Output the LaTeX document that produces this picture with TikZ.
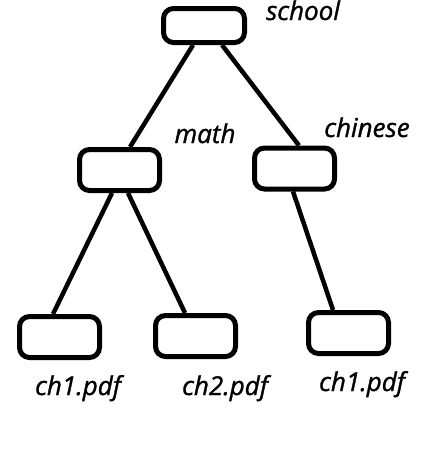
\documentclass[tikz,border=0pt]{standalone}
\usepackage{fontspec}
\setmainfont{Open Sans}[ItalicFeatures={FakeBold=1.2}]
\begin{document}
\begin{tikzpicture}[x=1pt,y=-1pt,
  box/.style={draw=black,line width=5pt,rounded corners=10pt,minimum width=80pt,minimum height=41pt,inner sep=0pt},
  lab/.style={anchor=base,font=\fontsize{26}{28}\selectfont\itshape},
  edge/.style={line width=4.5pt}]
\useasboundingbox (0,0) rectangle (423,472);
\node[box,minimum width=81pt,minimum height=34pt] (top) at (204,25.5) {};
\node[box] (math) at (119.5,170) {};
\node[box] (chinese) at (294.5,168.5) {};
\node[box] (b1) at (59.5,337) {};
\node[box] (b2) at (195.5,336) {};
\node[box] (b3) at (348.5,333) {};
\draw[edge] ([xshift=-11pt]top.south) -- ([xshift=10.5pt]math.north);
\draw[edge] ([xshift=18pt]top.south) -- ([xshift=4.5pt]chinese.north);
\draw[edge] ([xshift=-7.5pt]math.south) -- ([xshift=-6.5pt]b1.north);
\draw[edge] ([xshift=8.5pt]math.south) -- ([xshift=-10.5pt]b2.north);
\draw[edge] ([xshift=-1.5pt]chinese.south) -- ([xshift=-15.5pt]b3.north);
\node[lab] (lschool) at (303,20) {school};
\node[lab] (lmath) at (205,143) {math};
\node[lab] (lchinese) at (367,137) {chinese};
\node[lab] (l1) at (78,395) {ch1.pdf};
\node[lab] (l2) at (225,395) {ch2.pdf};
\node[lab] (l3) at (362,391) {ch1.pdf};
\end{tikzpicture}
\end{document}
